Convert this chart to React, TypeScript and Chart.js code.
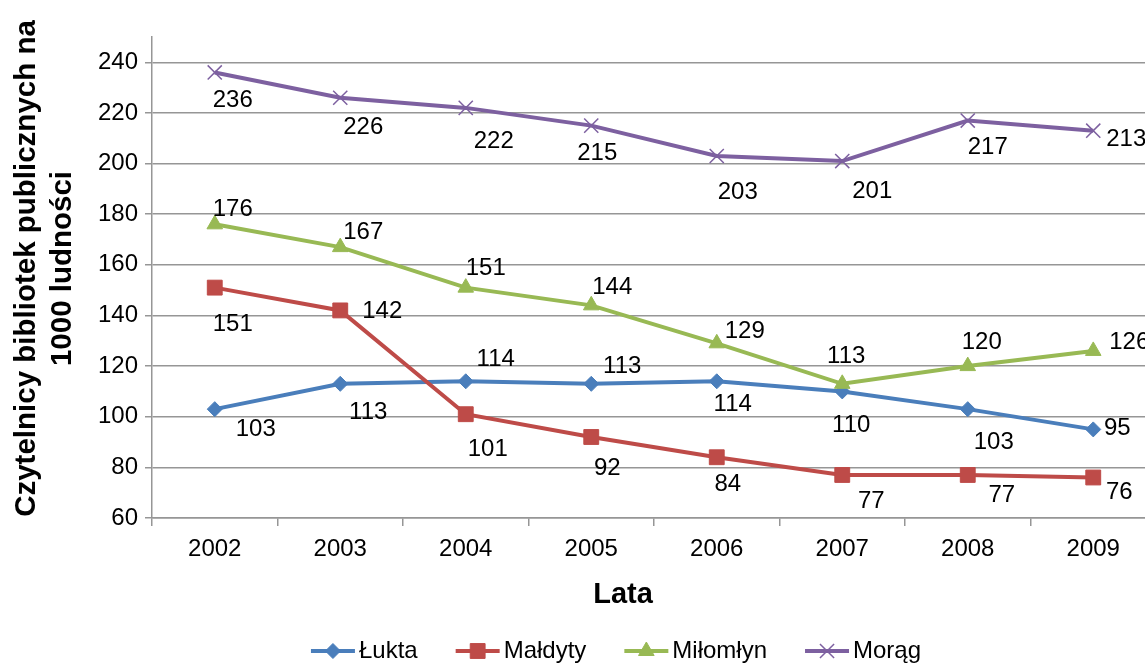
import React, { useEffect, useRef } from 'react';
import { Chart, registerables } from 'chart.js';

Chart.register(...registerables);

// ---- data ----
const years = ['2002', '2003', '2004', '2005', '2006', '2007', '2008', '2009'];
const seriesNames = ['Łukta', 'Małdyty', 'Miłomłyn', 'Morąg'];
const lukta = [103, 113, 114, 113, 114, 110, 103, 95];
const maldyty = [151, 142, 101, 92, 84, 77, 77, 76];
const milomlyn = [176, 167, 151, 144, 129, 113, 120, 126];
const morag = [236, 226, 222, 215, 203, 201, 217, 213];
const yTickValues = [60, 80, 100, 120, 140, 160, 180, 200, 220, 240];
const yTitleLines = ['Czytelnicy bibliotek publicznych na', '1000 ludności'];
const xTitle = 'Lata';

// ---- styles ----
const FONT = '"Liberation Sans", Arial, Helvetica, sans-serif';
const colors = ['#4A7EBB', '#BE4B48', '#98B954', '#7D60A0'];
const pointStyles = ['rectRot', 'rect', 'triangle', 'crossRot'];
const pointRadii = [7.5, 10.5, 9, 10];
const pointBorderWidths = [1, 1, 1, 1.5];
// data label offsets (text centre relative to the point), px
const labelOffsets: number[][][] = [
  [[41, 20], [28, 29], [30, -22], [31, -17], [16, 23], [9, 34], [26, 33], [24, -1]],
  [[18, 37], [42, 1], [22, 35], [16, 31], [11, 27], [29, 26], [34, 20], [26, 15]],
  [[18, -15], [23, -15], [20, -19], [21, -18], [28, -12], [4, -27], [14, -24], [36, -9]],
  [[18, 28], [23, 30], [28, 33], [6, 28], [21, 36], [30, 30], [20, 27], [33, 9]],
];
const gridColor = '#969696';

function drawMarker(ctx: CanvasRenderingContext2D, style: string, x: number, y: number, r: number, color: string, bw: number) {
  ctx.save();
  ctx.fillStyle = color;
  ctx.strokeStyle = color;
  ctx.lineWidth = bw;
  ctx.beginPath();
  if (style === 'rectRot') {
    ctx.moveTo(x - r, y);
    ctx.lineTo(x, y - r);
    ctx.lineTo(x + r, y);
    ctx.lineTo(x, y + r);
    ctx.closePath();
    ctx.fill();
    ctx.stroke();
  } else if (style === 'rect') {
    const s = r * Math.SQRT1_2;
    ctx.rect(x - s, y - s, 2 * s, 2 * s);
    ctx.fill();
    ctx.stroke();
  } else if (style === 'triangle') {
    ctx.moveTo(x, y - r);
    ctx.lineTo(x + r * 0.866, y + r * 0.5);
    ctx.lineTo(x - r * 0.866, y + r * 0.5);
    ctx.closePath();
    ctx.fill();
    ctx.stroke();
  } else {
    const d = r * Math.SQRT1_2;
    ctx.moveTo(x - d, y - d);
    ctx.lineTo(x + d, y + d);
    ctx.moveTo(x + d, y - d);
    ctx.lineTo(x - d, y + d);
    ctx.stroke();
  }
  ctx.restore();
}

const decorPlugin = {
  id: 'decor',
  afterDatasetsDraw(chart: any) {
    const ctx: CanvasRenderingContext2D = chart.ctx;
    // data labels
    ctx.save();
    ctx.font = `24px ${FONT}`;
    ctx.fillStyle = '#000';
    ctx.textAlign = 'center';
    ctx.textBaseline = 'middle';
    chart.data.datasets.forEach((ds: any, i: number) => {
      const meta = chart.getDatasetMeta(i);
      meta.data.forEach((pt: any, j: number) => {
        const off = labelOffsets[i][j];
        ctx.fillText(String(ds.data[j]), pt.x + off[0], pt.y + off[1]);
      });
    });
    ctx.restore();
  },
  afterDraw(chart: any) {
    const ctx: CanvasRenderingContext2D = chart.ctx;
    const area = chart.chartArea;
    const yMid = (area.top + area.bottom) / 2 - 9;
    // y axis title
    ctx.save();
    ctx.font = `bold 29.5px ${FONT}`;
    ctx.fillStyle = '#000';
    ctx.textAlign = 'center';
    ctx.textBaseline = 'alphabetic';
    yTitleLines.forEach((line, k) => {
      ctx.save();
      ctx.translate(35 + k * 36, yMid);
      ctx.rotate(-Math.PI / 2);
      ctx.fillText(line, 0, 0);
      ctx.restore();
    });
    // x axis title
    const cx = (area.left + area.right) / 2 - 31;
    ctx.font = `bold 29px ${FONT}`;
    ctx.textBaseline = 'middle';
    ctx.fillText(xTitle, cx, area.bottom + 77);
    // legend
    ctx.font = `24px ${FONT}`;
    const lineLen = 44;
    const gapText = 4;
    const gapItem = 38;
    const widths = seriesNames.map((n) => ctx.measureText(n).width);
    const total = widths.reduce((a, w) => a + lineLen + gapText + w, 0) + gapItem * (seriesNames.length - 1);
    let x = (area.left + area.right) / 2 - 38 - total / 2;
    const ly = area.bottom + 133;
    ctx.textAlign = 'left';
    seriesNames.forEach((name, i) => {
      ctx.save();
      ctx.strokeStyle = colors[i];
      ctx.lineWidth = 4;
      ctx.beginPath();
      ctx.moveTo(x, ly);
      ctx.lineTo(x + lineLen, ly);
      ctx.stroke();
      ctx.restore();
      drawMarker(ctx, pointStyles[i], x + lineLen / 2, ly, pointRadii[i], colors[i], pointBorderWidths[i]);
      ctx.fillStyle = '#000';
      ctx.fillText(name, x + lineLen + gapText, ly);
      x += lineLen + gapText + widths[i] + gapItem;
    });
    ctx.restore();
  },
};

export default function App() {
  const ref = useRef<HTMLCanvasElement | null>(null);
  useEffect(() => {
    if (!ref.current) return;
    const series = [lukta, maldyty, milomlyn, morag];
    const chart = new Chart(ref.current, {
      type: 'line',
      data: {
        labels: years,
        datasets: series.map((d, i) => ({
          label: seriesNames[i],
          data: d,
          borderColor: colors[i],
          backgroundColor: colors[i],
          borderWidth: 4,
          tension: 0,
          pointStyle: pointStyles[i] as any,
          pointRadius: pointRadii[i],
          pointHoverRadius: pointRadii[i],
          pointBackgroundColor: colors[i],
          pointBorderColor: colors[i],
          pointBorderWidth: pointBorderWidths[i],
          order: series.length - 1 - i,
          clip: false as any,
        })),
      },
      options: {
        responsive: false,
        animation: false,
        devicePixelRatio: 1,
        events: [],
        layout: { padding: { left: 80, right: 24, top: 37, bottom: 96 } },
        plugins: {
          legend: { display: false },
          tooltip: { enabled: false },
          title: { display: false },
        },
        scales: {
          x: {
            type: 'category',
            offset: true,
            grid: {
              display: true,
              drawOnChartArea: false,
              drawTicks: true,
              tickLength: 8,
              offset: true,
              color: gridColor,
              lineWidth: 1.5,
            },
            border: { display: true, color: gridColor, width: 1.5 },
            ticks: {
              color: '#000',
              font: { family: FONT, size: 24 },
              padding: 9,
              maxRotation: 0,
              autoSkip: false,
            },
            afterFit: (s: any) => {
              s.height = 50;
            },
          },
          y: {
            type: 'linear',
            min: 60,
            max: 250,
            grid: {
              color: gridColor,
              lineWidth: 1.5,
              tickLength: 7,
              drawTicks: true,
            },
            border: { display: true, color: gridColor, width: 1.5 },
            ticks: {
              stepSize: 20,
              color: '#000',
              font: { family: FONT, size: 24 },
              padding: 7,
            },
            afterBuildTicks: (s: any) => {
              s.ticks = yTickValues.map((v) => ({ value: v }));
            },
            afterFit: (s: any) => {
              s.width = 72;
            },
          },
        },
      },
      plugins: [decorPlugin],
    });
    return () => chart.destroy();
  }, []);
  return (
    <div
      style={{
        position: 'absolute',
        left: 0,
        top: 0,
        width: 1145,
        height: 664,
        overflow: 'hidden',
        background: '#fff',
      }}
    >
      <canvas ref={ref} width={1180} height={664} style={{ display: 'block', width: 1180, height: 664 }} />
    </div>
  );
}
